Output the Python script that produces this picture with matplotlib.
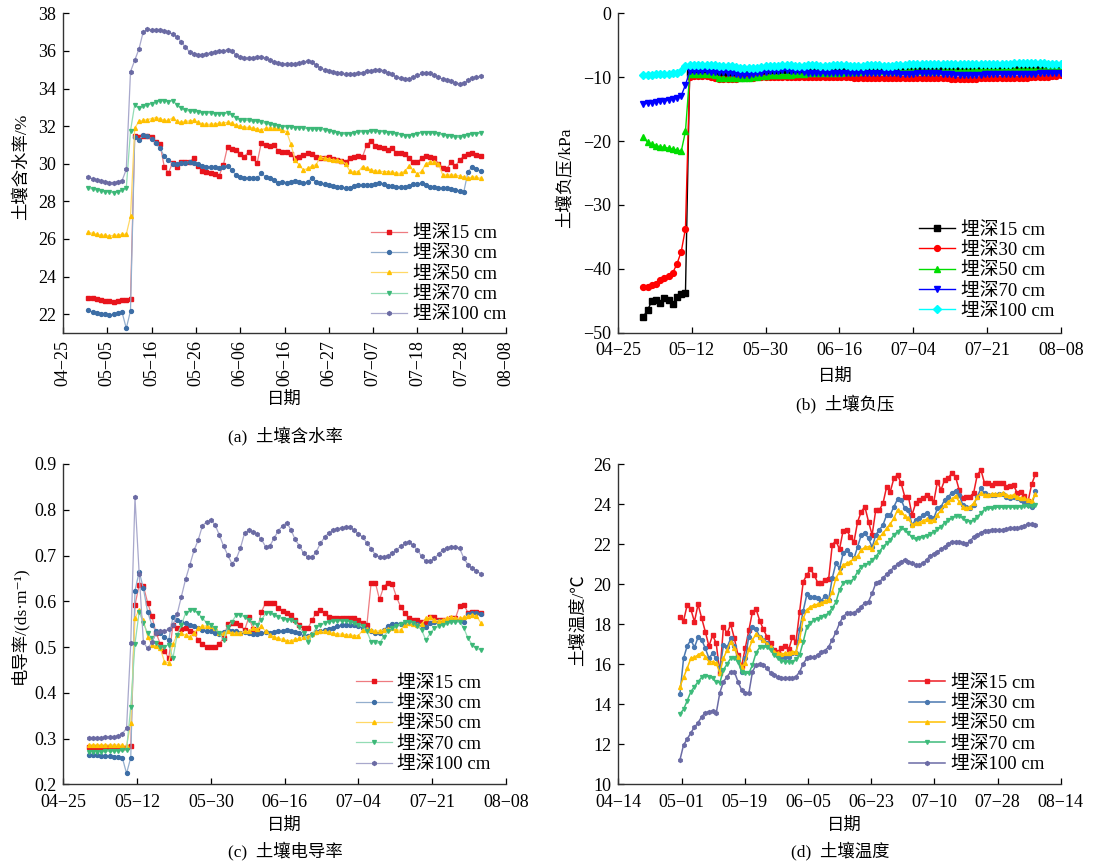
import numpy as np
import matplotlib
matplotlib.use("Agg")
import matplotlib.pyplot as plt

plt.rcParams['font.family'] = ['Liberation Serif', 'Noto Sans CJK SC', 'DejaVu Sans']
plt.rcParams['axes.unicode_minus'] = True

labels = ['埋深15 cm', '埋深30 cm', '埋深50 cm', '埋深70 cm', '埋深100 cm']

# ---------------- (a) soil water content, daily from 05-01 (day 6 after 04-25)
a_first_day = 6
a_15 = [22.88, 22.85, 22.8, 22.75, 22.7, 22.68, 22.65, 22.7, 22.75, 22.78,
        22.8, 31.5, 31.44, 31.5, 31.5, 31.4, 31.17, 31.03, 29.84, 29.52,
        30.06, 29.84, 30.1, 30.07, 30.1, 30.29, 29.88, 29.63, 29.57, 29.52,
        29.48, 29.36, 29.93, 30.9, 30.77, 30.73, 30.52, 30.38, 30.64, 30.29,
        30.02, 31.12, 31.0, 30.95, 31.0, 30.7, 30.64, 30.6, 30.52, 30.29,
        30.38, 30.46, 30.59, 30.52, 30.38, 30.3, 30.29, 30.35, 30.24, 30.2,
        30.15, 30.1, 30.29, 30.38, 30.42, 30.38, 31.0, 31.23, 30.95, 30.9,
        30.85, 30.73, 30.85, 30.58, 30.55, 30.5, 30.3, 30.07, 30.07, 30.32,
        30.4, 30.38, 30.3, 30.0, 29.8, 29.74, 30.1, 29.87, 30.2, 30.41,
        30.52, 30.59, 30.47, 30.41]
a_30 = [22.22, 22.1, 22.05, 22.0, 22.0, 21.95, 22.0, 22.05, 22.1, 21.25,
        22.18, 31.44, 31.26, 31.53, 31.48, 31.3, 31.09, 30.82, 30.41, 30.2,
        29.98, 29.97, 30.02, 30.06, 30.11, 30.06, 29.98, 29.9, 29.84, 29.84,
        29.81, 29.76, 29.84, 29.9, 29.67, 29.4, 29.28, 29.22, 29.26, 29.22,
        29.22, 29.49, 29.31, 29.22, 29.13, 29.0, 29.05, 29.0, 29.05, 29.1,
        29.05, 28.96, 29.05, 29.22, 29.05, 28.96, 28.9, 28.85, 28.8, 28.78,
        28.75, 28.69, 28.73, 28.8, 28.85, 28.87, 28.87, 28.88, 28.9, 28.99,
        28.9, 28.84, 28.8, 28.78, 28.75, 28.75, 28.8, 28.9, 28.94, 28.96,
        28.87, 28.78, 28.75, 28.73, 28.7, 28.69, 28.64, 28.6, 28.55, 28.51,
        29.58, 29.84, 29.7, 29.6]
a_50 = [26.35, 26.3, 26.25, 26.2, 26.2, 26.15, 26.2, 26.2, 26.25, 26.25,
        27.2, 31.9, 32.25, 32.3, 32.35, 32.4, 32.45, 32.4, 32.3, 32.3,
        32.45, 32.25, 32.2, 32.25, 32.28, 32.3, 32.2, 32.12, 32.1, 32.1,
        32.12, 32.15, 32.18, 32.2, 32.15, 32.05, 32.0, 31.95, 31.93, 31.9,
        31.85, 31.8, 31.88, 31.9, 31.9, 31.88, 31.8, 31.7, 31.05, 30.2,
        29.93, 29.67, 29.75, 29.88, 29.95, 30.38, 30.3, 30.25, 30.2, 30.18,
        30.15, 30.0, 29.6, 29.55, 29.58, 29.85, 29.75, 29.67, 29.62, 29.6,
        29.58, 29.58, 29.55, 29.5, 29.49, 29.6, 29.88, 29.65, 29.45, 29.6,
        30.0, 30.1, 30.1, 30.0, 29.4, 29.4, 29.4, 29.4, 29.35, 29.3,
        29.22, 29.3, 29.28, 29.22]
a_70 = [28.7, 28.65, 28.6, 28.55, 28.5, 28.5, 28.45, 28.5, 28.6, 28.7,
        31.75, 33.15, 32.95, 33.05, 33.1, 33.2, 33.3, 33.35, 33.35, 33.3,
        33.35, 33.15, 32.95, 32.85, 32.8, 32.8, 32.75, 32.7, 32.7, 32.7,
        32.65, 32.65, 32.65, 32.7, 32.6, 32.45, 32.35, 32.3, 32.3, 32.25,
        32.25, 32.2, 32.15, 32.1, 32.05, 32.0, 31.98, 31.97, 31.95, 31.92,
        31.9, 31.88, 31.87, 31.85, 31.84, 31.83, 31.8, 31.75, 31.7, 31.65,
        31.6, 31.56, 31.6, 31.65, 31.68, 31.7, 31.71, 31.72, 31.72, 31.71,
        31.7, 31.66, 31.62, 31.58, 31.54, 31.5, 31.49, 31.55, 31.6, 31.65,
        31.65, 31.63, 31.62, 31.58, 31.53, 31.49, 31.45, 31.42, 31.4, 31.45,
        31.53, 31.57, 31.6, 31.62]
a_100 = [29.3, 29.2, 29.15, 29.1, 29.05, 29.0, 29.0, 29.05, 29.1, 29.7,
         34.9, 35.5, 36.1, 37.0, 37.15, 37.1, 37.1, 37.1, 37.05, 37.0,
         36.9, 36.75, 36.5, 36.2, 35.95, 35.85, 35.8, 35.8, 35.85, 35.9,
         35.95, 36.0, 36.0, 36.05, 36.0, 35.8, 35.65, 35.6, 35.6, 35.6,
         35.65, 35.7, 35.6, 35.5, 35.4, 35.35, 35.3, 35.3, 35.3, 35.3,
         35.35, 35.4, 35.45, 35.4, 35.25, 35.1, 35.0, 34.95, 34.9, 34.85,
         34.8, 34.75, 34.75, 34.75, 34.8, 34.85, 34.95, 34.95, 35.0, 35.0,
         34.95, 34.85, 34.75, 34.6, 34.55, 34.5, 34.5, 34.6, 34.7, 34.8,
         34.85, 34.8, 34.7, 34.6, 34.5, 34.45, 34.4, 34.3, 34.25, 34.3,
         34.45, 34.55, 34.6, 34.65]
a_ticklabels = ['04−25', '05−05', '05−16', '05−26', '06−06', '06−16',
                '06−27', '07−07', '07−18', '07−28', '08−08']

# ---------------- (b) soil suction (kPa), daily from 05-01 (day 6 after 04-25)
b_first_day = 6
b_15 = [-47.5, -46.45, -45.1, -44.9, -45.4, -44.6, -44.9, -45.5, -44.4, -44.0,
        -43.8, -9.3, -9.3, -9.2, -9.3, -9.3, -9.2, -9.3, -9.4, -9.4,
        -9.3, -9.3, -9.4, -9.4, -9.5, -9.4, -9.3, -9.3, -9.2, -9.2,
        -9.1, -9.1, -9.0, -9.1, -9.1, -9.2, -9.2, -9.1, -9.1, -9.0,
        -9.0, -9.0, -9.0, -8.9, -8.9, -8.9, -8.9, -8.8, -8.8, -8.8,
        -8.8, -8.8, -8.7, -8.7, -8.7, -8.7, -8.7, -8.6, -8.6, -8.6,
        -8.6, -8.6, -8.5, -8.5, -8.5, -8.5, -8.5, -8.5, -8.5, -8.4,
        -8.4, -8.4, -8.4, -8.4, -8.4, -8.4, -8.4, -8.4, -8.3, -8.3,
        -8.3, -8.3, -8.3, -8.3, -8.3, -8.3, -8.3, -8.3, -8.2, -8.2,
        -8.2, -8.2, -8.2, -8.2, -8.2, -8.2, -8.2, -8.3, -8.3, -8.3]
b_30 = [-42.8, -42.8, -42.6, -42.3, -41.8, -41.5, -41.2, -40.6, -39.2, -37.3,
        -33.7, -9.9, -9.8, -9.8, -9.8, -9.8, -9.9, -10.2, -10.3, -10.3,
        -10.3, -10.3, -10.3, -10.2, -10.2, -10.1, -10.1, -10.0, -10.0, -10.0,
        -10.0, -9.9, -9.9, -9.9, -9.9, -9.9, -9.9, -9.9, -9.9, -9.9,
        -9.9, -9.9, -9.9, -9.9, -9.9, -10.0, -10.0, -10.0, -10.0, -10.0,
        -10.1, -10.1, -10.1, -10.1, -10.1, -10.1, -10.1, -10.1, -10.1, -10.1,
        -10.1, -10.1, -10.1, -10.1, -10.1, -10.1, -10.1, -10.1, -10.1, -10.1,
        -10.2, -10.2, -10.2, -10.3, -10.3, -10.3, -10.3, -10.3, -10.3, -10.3,
        -10.2, -10.2, -10.2, -10.1, -10.1, -10.1, -10.1, -10.1, -10.1, -10.1,
        -10.1, -10.1, -10.0, -10.0, -10.0, -9.9, -9.9, -9.8, -9.8, -9.7]
b_50 = [-19.3, -20.2, -20.5, -20.7, -20.9, -21.0, -21.1, -21.3, -21.4, -21.6,
        -18.5, -9.5, -9.5, -9.5, -9.5, -9.5, -9.5, -9.6, -10.1, -10.1,
        -10.2, -10.2, -10.2, -10.2, -10.1, -10.1, -10.0, -9.9, -9.8, -9.8,
        -9.7, -9.7, -9.7, -9.6, -9.6, -9.6, -9.5, -9.5, -9.5, -9.4,
        -9.4, -9.4, -9.4, -9.3, -9.3, -9.3, -9.3, -9.3, -9.2, -9.2,
        -9.2, -9.2, -9.1, -9.1, -9.1, -9.1, -9.1, -9.1, -9.1, -9.0,
        -9.0, -9.0, -9.0, -9.0, -9.0, -9.0, -9.0, -9.0, -9.0, -9.0,
        -9.0, -9.0, -9.0, -9.0, -9.0, -9.0, -9.0, -9.0, -9.0, -8.9,
        -8.9, -8.9, -8.9, -8.9, -8.9, -8.9, -8.8, -8.8, -8.8, -8.8,
        -8.8, -8.8, -8.8, -8.8, -8.8, -8.8, -8.7, -8.7, -8.7, -8.7]
b_70 = [-14.2, -14.1, -14.0, -13.9, -13.8, -13.7, -13.6, -13.4, -13.2, -12.9,
        -11.2, -9.1, -9.1, -9.1, -9.1, -9.1, -9.2, -9.2, -9.2, -9.2,
        -9.3, -9.4, -9.5, -9.6, -9.6, -9.6, -9.5, -9.4, -9.3, -9.2,
        -9.1, -9.0, -9.0, -8.9, -8.9, -9.0, -9.0, -9.1, -9.2, -9.3,
        -9.3, -9.4, -9.4, -9.4, -9.4, -9.4, -9.4, -9.4, -9.4, -9.4,
        -9.3, -9.3, -9.3, -9.3, -9.3, -9.3, -9.3, -9.4, -9.4, -9.4,
        -9.4, -9.5, -9.5, -9.5, -9.5, -9.4, -9.4, -9.4, -9.4, -9.4,
        -9.4, -9.5, -9.5, -9.5, -9.6, -9.6, -9.6, -9.6, -9.6, -9.6,
        -9.6, -9.5, -9.5, -9.5, -9.5, -9.5, -9.5, -9.5, -9.5, -9.5,
        -9.5, -9.5, -9.5, -9.5, -9.4, -9.4, -9.4, -9.4, -9.3, -9.3]
b_100 = [-9.6, -9.6, -9.6, -9.5, -9.5, -9.5, -9.5, -9.4, -9.3, -9.0,
         -8.3, -8.1, -8.1, -8.1, -8.1, -8.1, -8.1, -8.1, -8.2, -8.2,
         -8.2, -8.3, -8.4, -8.5, -8.6, -8.6, -8.5, -8.5, -8.4, -8.3,
         -8.3, -8.2, -8.2, -8.1, -8.1, -8.1, -8.2, -8.2, -8.2, -8.1,
         -8.1, -8.1, -8.2, -8.2, -8.2, -8.1, -8.1, -8.1, -8.1, -8.2,
         -8.2, -8.2, -8.2, -8.1, -8.1, -8.1, -8.1, -8.2, -8.2, -8.2,
         -8.1, -8.1, -8.1, -8.0, -8.0, -8.0, -8.0, -8.0, -8.0, -8.0,
         -8.0, -8.0, -8.0, -8.0, -8.0, -8.0, -8.0, -8.0, -8.0, -7.9,
         -7.9, -7.9, -7.9, -7.9, -7.9, -7.9, -7.9, -7.9, -7.8, -7.8,
         -7.8, -7.8, -7.8, -7.8, -7.8, -7.8, -7.9, -7.9, -7.9, -7.9]
bc_ticklabels = ['04−25', '05−12', '05−30', '06−16', '07−04', '07−21', '08−08']

# ---------------- (c) electrical conductivity, daily from 05-01
c_first_day = 6
c_15 = [0.281, 0.281, 0.281, 0.281, 0.282, 0.282, 0.281, 0.281, 0.28, 0.281,
        0.283, 0.592, 0.636, 0.633, 0.597, 0.568, 0.531, 0.507, 0.492, 0.475,
        0.548, 0.541, 0.539, 0.541, 0.534, 0.531, 0.515, 0.507, 0.501, 0.499,
        0.501, 0.507, 0.519, 0.55, 0.552, 0.552, 0.548, 0.537, 0.565, 0.54,
        0.537, 0.577, 0.597, 0.596, 0.596, 0.585, 0.578, 0.575, 0.57, 0.559,
        0.548, 0.541, 0.541, 0.559, 0.575, 0.581, 0.574, 0.566, 0.563, 0.563,
        0.563, 0.563, 0.563, 0.563, 0.559, 0.553, 0.548, 0.639, 0.641, 0.604,
        0.632, 0.641, 0.638, 0.61, 0.588, 0.574, 0.563, 0.559, 0.559, 0.555,
        0.552, 0.566, 0.565, 0.56, 0.559, 0.559, 0.563, 0.563, 0.59, 0.592,
        0.575, 0.577, 0.577, 0.575]
c_30 = [0.263, 0.263, 0.263, 0.262, 0.262, 0.261, 0.26, 0.259, 0.258, 0.224,
        0.258, 0.623, 0.665, 0.628, 0.577, 0.548, 0.534, 0.53, 0.523, 0.515,
        0.566, 0.56, 0.555, 0.552, 0.548, 0.545, 0.541, 0.538, 0.536, 0.534,
        0.53, 0.528, 0.532, 0.538, 0.536, 0.534, 0.53, 0.532, 0.53, 0.529,
        0.529, 0.53, 0.532, 0.531, 0.533, 0.534, 0.535, 0.537, 0.535, 0.532,
        0.53, 0.525, 0.524, 0.529, 0.532, 0.534, 0.537, 0.539, 0.541, 0.545,
        0.548, 0.549, 0.549, 0.549, 0.546, 0.542, 0.539, 0.534, 0.531, 0.531,
        0.538, 0.546, 0.55, 0.551, 0.551, 0.553, 0.553, 0.553, 0.55, 0.548,
        0.543, 0.553, 0.555, 0.556, 0.557, 0.557, 0.558, 0.558, 0.558, 0.555,
        0.572, 0.574, 0.574, 0.572]
c_50 = [0.286, 0.286, 0.286, 0.286, 0.286, 0.286, 0.285, 0.285, 0.285, 0.284,
        0.333, 0.563, 0.581, 0.559, 0.523, 0.505, 0.502, 0.497, 0.468, 0.466,
        0.507, 0.526, 0.53, 0.526, 0.523, 0.53, 0.541, 0.546, 0.546, 0.545,
        0.541, 0.531, 0.53, 0.534, 0.531, 0.53, 0.531, 0.534, 0.534, 0.541,
        0.539, 0.545, 0.534, 0.526, 0.523, 0.519, 0.517, 0.514, 0.514, 0.517,
        0.519, 0.521, 0.523, 0.529, 0.532, 0.534, 0.534, 0.532, 0.53, 0.529,
        0.528, 0.527, 0.526, 0.525, 0.525, 0.537, 0.539, 0.537, 0.534, 0.536,
        0.537, 0.539, 0.541, 0.537, 0.537, 0.548, 0.553, 0.55, 0.548, 0.55,
        0.563, 0.565, 0.559, 0.557, 0.559, 0.563, 0.566, 0.563, 0.563, 0.565,
        0.568, 0.57, 0.568, 0.553]
c_70 = [0.271, 0.271, 0.271, 0.271, 0.272, 0.272, 0.272, 0.273, 0.274, 0.275,
        0.37, 0.507, 0.577, 0.552, 0.53, 0.519, 0.508, 0.501, 0.501, 0.505,
        0.476, 0.526, 0.548, 0.574, 0.58, 0.58, 0.574, 0.563, 0.553, 0.548,
        0.541, 0.53, 0.515, 0.543, 0.555, 0.57, 0.57, 0.566, 0.559, 0.553,
        0.548, 0.559, 0.574, 0.575, 0.57, 0.565, 0.562, 0.559, 0.559, 0.555,
        0.543, 0.531, 0.512, 0.526, 0.543, 0.548, 0.552, 0.555, 0.557, 0.557,
        0.557, 0.557, 0.555, 0.553, 0.548, 0.545, 0.534, 0.512, 0.51, 0.508,
        0.523, 0.534, 0.541, 0.545, 0.55, 0.555, 0.555, 0.553, 0.546, 0.537,
        0.515, 0.53, 0.541, 0.545, 0.548, 0.552, 0.555, 0.555, 0.555, 0.541,
        0.519, 0.505, 0.497, 0.494]
c_100 = [0.301, 0.301, 0.302, 0.302, 0.303, 0.304, 0.304, 0.306, 0.311, 0.322,
         0.508, 0.827, 0.66, 0.51, 0.497, 0.51, 0.53, 0.535, 0.535, 0.539,
         0.548, 0.572, 0.61, 0.648, 0.679, 0.711, 0.734, 0.765, 0.774, 0.778,
         0.767, 0.745, 0.721, 0.701, 0.682, 0.692, 0.716, 0.749, 0.756, 0.752,
         0.747, 0.735, 0.719, 0.721, 0.738, 0.754, 0.765, 0.772, 0.756, 0.735,
         0.721, 0.705, 0.696, 0.696, 0.708, 0.727, 0.74, 0.75, 0.756, 0.759,
         0.76, 0.762, 0.762, 0.755, 0.748, 0.74, 0.728, 0.715, 0.702, 0.697,
         0.696, 0.7, 0.706, 0.713, 0.72, 0.727, 0.73, 0.722, 0.712, 0.698,
         0.687, 0.687, 0.694, 0.703, 0.712, 0.717, 0.718, 0.718, 0.716, 0.694,
         0.68, 0.672, 0.667, 0.66]

# ---------------- (d) soil temperature, daily from 05-01 (day 17 after 04-14)
d_first_day = 17
d_15 = [18.38, 18.18, 18.97, 18.75, 18.13, 19.0, 18.3, 17.63, 16.9, 17.46,
        17.05, 15.55, 17.88, 17.55, 18.0, 17.3, 16.47, 15.9, 16.8, 17.7,
        18.63, 18.75, 18.18, 17.75, 17.38, 17.05, 16.72, 16.63, 16.8, 16.9,
        16.75, 17.35, 17.13, 18.63, 20.13, 20.47, 20.75, 20.47, 20.08, 20.08,
        20.2, 20.25, 21.97, 22.18, 21.75, 22.68, 22.72, 22.35, 22.13, 23.13,
        23.63, 23.88, 23.13, 22.47, 23.72, 23.72, 24.05, 24.88, 24.63, 25.3,
        25.47, 25.05, 24.38, 24.38, 23.47, 24.05, 24.22, 24.3, 24.47, 24.3,
        24.13, 25.13, 24.72, 25.22, 25.3, 25.58, 25.38, 24.72, 24.3, 24.38,
        24.38, 24.58, 25.47, 25.72, 25.05, 25.05, 24.97, 25.05, 25.08, 25.08,
        24.85, 24.92, 24.97, 24.55, 24.6, 24.4, 24.15, 25.0, 25.5]
d_30 = [14.52, 16.3, 16.92, 17.22, 16.85, 17.35, 17.22, 16.8, 16.3, 16.55,
        16.3, 15.72, 16.97, 16.85, 17.3, 16.92, 16.3, 15.63, 16.3, 17.38,
        17.85, 17.75, 17.38, 17.22, 17.05, 16.8, 16.55, 16.47, 16.38, 16.38,
        16.35, 16.58, 16.55, 17.75, 18.68, 19.5, 19.38, 19.35, 19.3, 19.18,
        19.42, 19.22, 20.3, 21.05, 20.8, 21.55, 21.72, 21.52, 21.3, 21.88,
        22.47, 22.55, 22.3, 21.85, 22.47, 22.72, 22.97, 23.47, 23.47, 23.88,
        24.25, 24.22, 23.8, 23.72, 22.97, 23.22, 23.3, 23.47, 23.58, 23.38,
        23.3, 23.8, 23.88, 24.22, 24.38, 24.58, 24.68, 24.47, 23.97, 23.85,
        23.8, 23.97, 24.38, 24.8, 24.55, 24.47, 24.47, 24.47, 24.5, 24.5,
        24.38, 24.3, 24.38, 24.3, 24.22, 24.13, 23.97, 23.88, 24.68]
d_50 = [14.88, 15.35, 15.8, 16.3, 16.35, 16.47, 16.58, 16.38, 16.13, 16.13,
        16.05, 15.58, 16.3, 16.72, 17.13, 16.8, 16.38, 15.88, 16.08, 16.75,
        17.22, 17.52, 17.38, 17.22, 17.02, 16.88, 16.63, 16.55, 16.52, 16.55,
        16.58, 16.63, 16.63, 17.22, 18.3, 18.72, 18.88, 18.97, 19.0, 19.05,
        19.18, 19.22, 19.63, 20.3, 20.63, 20.97, 21.05, 21.13, 21.3, 21.42,
        21.72, 21.85, 21.88, 21.77, 22.13, 22.35, 22.55, 22.8, 23.02, 23.3,
        23.72, 23.63, 23.42, 23.3, 22.97, 23.05, 23.08, 23.18, 23.25, 23.18,
        23.22, 23.47, 23.72, 23.97, 24.13, 24.25, 24.42, 24.13, 23.88, 23.8,
        23.88, 24.05, 24.38, 24.55, 24.47, 24.47, 24.5, 24.5, 24.5, 24.55,
        24.47, 24.42, 24.47, 24.38, 24.3, 24.3, 24.22, 24.18, 24.5]
d_70 = [13.52, 13.75, 14.18, 14.63, 14.88, 15.13, 15.35, 15.42, 15.38, 15.3,
        15.13, 15.08, 15.72, 16.02, 16.3, 16.3, 16.13, 15.63, 15.55, 15.55,
        15.97, 16.58, 16.85, 16.88, 16.85, 16.72, 16.47, 16.3, 16.18, 16.13,
        16.13, 16.13, 16.25, 16.47, 17.13, 17.88, 18.08, 18.22, 18.25, 18.35,
        18.42, 18.58, 18.8, 19.1, 19.72, 20.05, 20.13, 20.13, 20.3, 20.63,
        20.88, 20.97, 21.05, 21.22, 21.38, 21.63, 21.88, 22.05, 22.22, 22.47,
        22.63, 22.8, 22.72, 22.55, 22.35, 22.25, 22.3, 22.35, 22.42, 22.52,
        22.63, 22.75, 22.88, 23.08, 23.22, 23.3, 23.42, 23.42, 23.3, 23.18,
        23.13, 23.22, 23.38, 23.55, 23.75, 23.8, 23.8, 23.85, 23.85, 23.85,
        23.85, 23.88, 23.85, 23.85, 23.88, 23.92, 23.9, 23.92, 23.97]
d_100 = [11.22, 11.97, 12.25, 12.58, 12.85, 13.08, 13.38, 13.58, 13.63, 13.68,
         13.55, 14.58, 15.13, 15.38, 15.63, 15.63, 15.13, 14.72, 14.58, 14.55,
         15.63, 15.97, 16.0, 15.97, 15.8, 15.58, 15.47, 15.35, 15.3, 15.3,
         15.3, 15.3, 15.38, 15.63, 16.02, 16.3, 16.35, 16.35, 16.47, 16.63,
         16.68, 16.88, 17.22, 17.6, 18.05, 18.38, 18.55, 18.58, 18.58, 18.72,
         18.88, 19.08, 19.13, 19.55, 20.05, 20.13, 20.3, 20.52, 20.68, 20.85,
         21.02, 21.13, 21.22, 21.13, 21.05, 20.97, 20.97, 21.05, 21.22, 21.42,
         21.52, 21.63, 21.75, 21.88, 22.02, 22.13, 22.13, 22.13, 22.08, 22.02,
         22.18, 22.35, 22.47, 22.58, 22.68, 22.68, 22.72, 22.72, 22.72, 22.72,
         22.75, 22.8, 22.8, 22.8, 22.85, 22.92, 23.02, 23.02, 22.97]
d_ticklabels = ['04−14', '05−01', '05−19', '06−05', '06−23', '07−10', '07−28', '08−14']

markers = ['s', 'o', '^', 'v', 'h']
# muted palette used in (a), (c): marker colour and a lighter line colour
soft_mk = ['#e8141c', '#3d6ea6', '#ffc000', '#3cb878', '#6a6aa3']
soft_ln = ['#ee7b80', '#93aecd', '#ffd866', '#93dcb5', '#a8a8cc']
temp_ln = ['#ee1c24', '#4a78b0', '#ffc000', '#3dbb7a', '#6b6ba5']
# bright palette used in (b)
b_colors = ['black', '#ff0000', '#00dd00', '#0000ff', '#00ffff']
b_markers = ['s', 'o', '^', 'v', 'D']

fig = plt.figure(figsize=(10.97, 8.65), dpi=100)
W, H = 1097.0, 865.0


def make_ax(x0, x1, ytop, ybot):
    return fig.add_axes([x0 / W, 1 - ybot / H, (x1 - x0) / W, (ybot - ytop) / H])


def style(ax):
    for s in ['top', 'right']:
        ax.spines[s].set_visible(False)
    for s in ['left', 'bottom']:
        ax.spines[s].set_linewidth(1.0)
        ax.spines[s].set_color('#333333')
    ax.tick_params(direction='in', length=4, width=0.9, labelsize=13, colors='black')
    ax.tick_params(axis='x', pad=7)
    ax.tick_params(axis='y', pad=5)


def draw(ax, first_day, series, lcols, mcols, mks, ms, lw):
    for vals, lab, lc, mc, mk in zip(series, labels, lcols, mcols, mks):
        x = np.arange(len(vals)) + first_day
        ax.plot(x, vals, color=lc, lw=lw, marker=mk, ms=ms,
                markerfacecolor=mc, markeredgecolor=mc, label=lab)


def legend(ax, xa, ya):
    ax.legend(loc='lower right', bbox_to_anchor=(xa, ya), frameon=False,
              fontsize=13.5, handlelength=1.9, handletextpad=0.3,
              labelspacing=0.17, borderpad=0, borderaxespad=0)


# (a)
ax = make_ax(63, 506, 13.3, 333)
style(ax)
draw(ax, a_first_day, [a_15, a_30, a_50, a_70, a_100], soft_ln, soft_mk, markers, 2.8, 0.9)
ax.set_xlim(0, 105)
ax.set_ylim(21, 38)
ax.set_yticks(np.arange(22, 39, 2))
ax.set_xticks(np.linspace(0, 105, len(a_ticklabels)))
ax.set_xticklabels(a_ticklabels, rotation=90)
ax.tick_params(axis='x', pad=5)
ax.set_ylabel('土壤含水率/%', fontsize=12.5)
ax.set_xlabel('日期', fontsize=12.5)
ax.yaxis.set_label_coords(-0.075, 0.52)
ax.xaxis.set_label_coords(0.5, -0.185)
legend(ax, 1.0, 0.03)

# (b)
ax = make_ax(618, 1060.7, 13.3, 332.7)
style(ax)
draw(ax, b_first_day, [b_15, b_30, b_50, b_70, b_100], b_colors, b_colors, b_markers, 4.2, 1.0)
ax.set_xlim(0, 105)
ax.set_ylim(-50, 0)
ax.set_yticks(np.arange(-50, 1, 10))
ax.set_xticks(np.linspace(0, 105, len(bc_ticklabels)))
ax.set_xticklabels(bc_ticklabels)
ax.set_ylabel('土壤负压/kPa', fontsize=12.5)
ax.set_xlabel('日期', fontsize=12.5)
ax.yaxis.set_label_coords(-0.098, 0.484)
ax.xaxis.set_label_coords(0.49, -0.112)
legend(ax, 0.985, 0.04)

# (c)
ax = make_ax(63.3, 506, 464, 784.3)
style(ax)
draw(ax, c_first_day, [c_15, c_30, c_50, c_70, c_100], soft_ln, soft_mk, markers, 2.8, 0.9)
ax.set_xlim(0, 105)
ax.set_ylim(0.2, 0.9)
ax.set_yticks(np.arange(0.2, 0.91, 0.1))
ax.set_yticklabels(['%.1f' % v for v in np.arange(0.2, 0.91, 0.1)])
ax.set_xticks(np.linspace(0, 105, len(bc_ticklabels)))
ax.set_xticklabels(bc_ticklabels)
ax.set_ylabel('电导率/(ds·m⁻¹)', fontsize=12.5)
ax.set_xlabel('日期', fontsize=12.5)
ax.yaxis.set_label_coords(-0.08, 0.497)
ax.xaxis.set_label_coords(0.5, -0.105)
legend(ax, 0.965, 0.035)

# (d)
ax = make_ax(618.3, 1060.7, 464.3, 784.3)
style(ax)
draw(ax, d_first_day, [d_15, d_30, d_50, d_70, d_100], temp_ln, temp_ln, markers, 2.8, 1.1)
ax.set_xlim(0, 122)
ax.set_ylim(10, 26)
ax.set_yticks(np.arange(10, 27, 2))
ax.set_xticks(np.linspace(0, 122, len(d_ticklabels)))
ax.set_xticklabels(d_ticklabels)
ax.set_ylabel('土壤温度/℃', fontsize=12.5)
ax.set_xlabel('日期', fontsize=12.5)
ax.yaxis.set_label_coords(-0.072, 0.513)
ax.xaxis.set_label_coords(0.512, -0.105)
legend(ax, 0.962, 0.035)

# panel captions
fig.text(285 / W, 1 - 437 / H, '(a)  土壤含水率', ha='center', va='center', fontsize=12.5)
fig.text(845 / W, 1 - 405 / H, '(b)  土壤负压', ha='center', va='center', fontsize=12.5)
fig.text(285 / W, 1 - 852 / H, '(c)  土壤电导率', ha='center', va='center', fontsize=12.5)
fig.text(840 / W, 1 - 852 / H, '(d)  土壤温度', ha='center', va='center', fontsize=12.5)

fig.savefig('out.png', dpi=100)
